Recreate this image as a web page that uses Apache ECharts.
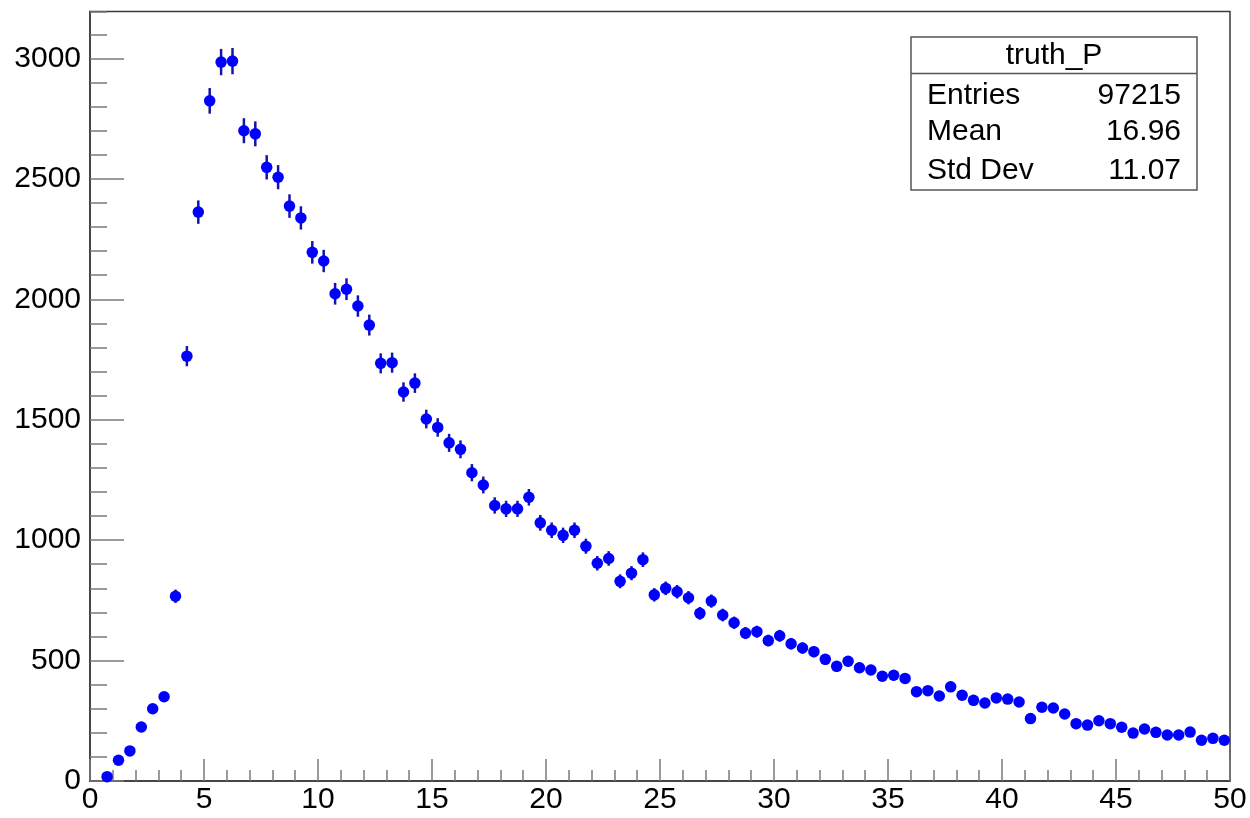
<!DOCTYPE html>
<html>
<head>
<meta charset="utf-8">
<script src="https://cdn.jsdelivr.net/npm/echarts@6/dist/echarts.min.js"></script>
<style>
html,body{margin:0;padding:0;background:#fff;}
#chart{width:1250px;height:818px;}
</style>
</head>
<body>
<div id="chart"></div>
<script>
// Histogram definition: 100 bins from 0 to 50
const xMin = 0;
const xMax = 50;
const binWidth = 0.5;
const yMax = 3195;
const xTickStep = 5;
const yTickStep = 500;

// bin contents
const binValues = [
  0, 18, 86, 125, 224, 300, 350, 767, 1764, 2362,
  2824, 2985, 2989, 2700, 2687, 2548, 2507, 2387, 2338, 2195,
  2159, 2023, 2042, 1972, 1893, 1734, 1737, 1615, 1652, 1503,
  1468, 1404, 1377, 1280, 1229, 1144, 1130, 1130, 1178, 1072,
  1041, 1020, 1041, 975, 904, 924, 829, 863, 919, 773,
  800, 786, 761, 696, 747, 689, 657, 614, 620, 583,
  603, 570, 552, 537, 505, 476, 497, 470, 461, 435,
  439, 426, 371, 375, 353, 391, 356, 335, 324, 345,
  340, 328, 259, 306, 303, 278, 238, 232, 250, 238,
  223, 199, 216, 202, 191, 191, 203, 169, 177, 169
];

// stats box
const statsTitle = "truth_P";
const statsNames = ["Entries", "Mean", "Std Dev"];
const statsValues = ["97215", "16.96", "11.07"];

const FONT = "'Liberation Sans', Arial, Helvetica, sans-serif";

const points = [];
binValues.forEach((v, k) => {
  if (v > 0) points.push([xMin + binWidth * (k + 0.5), v, Math.sqrt(v)]);
});

const chart = echarts.init(document.getElementById('chart'), null, {renderer: 'canvas'});

const gLeft = 90, gRight = 1230, gTop = 11.5, gBottom = 781;

const frameColor = '#3a3a3a';
const tickColor = '#7a7a7a';

const option = {
  animation: false,
  backgroundColor: '#ffffff',
  grid: {
    left: gLeft, right: 1250 - gRight, top: gTop, bottom: 818 - gBottom,
    show: true, borderColor: frameColor, borderWidth: 1.5, backgroundColor: 'transparent'
  },
  xAxis: [{
    type: 'value', min: xMin, max: xMax, interval: xTickStep,
    axisLine: {show: true, lineStyle: {color: frameColor, width: 1.5}},
    axisTick: {show: true, inside: true, length: 22, lineStyle: {color: tickColor, width: 1.5}},
    minorTick: {show: true, splitNumber: 5, length: 11, lineStyle: {color: tickColor, width: 1.5}},
    splitLine: {show: false},
    axisLabel: {color: '#000', fontFamily: FONT, fontSize: 30, margin: 4,
                formatter: v => String(v)}
  }],
  yAxis: [{
    type: 'value', min: 0, max: yMax, interval: yTickStep,
    axisLine: {show: true, lineStyle: {color: frameColor, width: 1.5}},
    axisTick: {show: true, inside: true, length: 34, lineStyle: {color: tickColor, width: 1.5}},
    splitLine: {show: false},
    axisLabel: {color: '#000', fontFamily: FONT, fontSize: 30, margin: 9, showMaxLabel: false,
                formatter: v => String(v)}
  }, {
    type: 'value', min: 0, max: yMax, interval: 100, position: 'left',
    axisLine: {show: false},
    axisTick: {show: true, inside: true, length: 17, lineStyle: {color: tickColor, width: 1.5}},
    splitLine: {show: false},
    axisLabel: {show: false}
  }],
  series: [{
    type: 'custom',
    xAxisIndex: 0, yAxisIndex: 0,
    data: points,
    renderItem: function (params, api) {
      const x = api.value(0), y = api.value(1), e = api.value(2);
      const p1 = api.coord([x, y - e]);
      const p2 = api.coord([x, y + e]);
      return {
        type: 'line',
        shape: {x1: p1[0], y1: p1[1], x2: p2[0], y2: p2[1]},
        style: {stroke: '#1414a8', lineWidth: 2.5}
      };
    },
    z: 2
  }, {
    type: 'scatter',
    xAxisIndex: 0, yAxisIndex: 0,
    data: points.map(p => [p[0], p[1]]),
    symbol: 'circle',
    symbolSize: 11.5,
    itemStyle: {color: '#0000ff', opacity: 1},
    z: 3
  }],
  graphic: [
    {type: 'rect', shape: {x: 911, y: 37, width: 286, height: 153},
     style: {fill: '#fff', stroke: '#555', lineWidth: 1.5}, z: 10},
    {type: 'line', shape: {x1: 911, y1: 73.5, x2: 1197, y2: 73.5},
     style: {stroke: '#555', lineWidth: 1.5}, z: 10},
    {type: 'text', x: 1054, y: 56, z: 11,
     style: {text: statsTitle, font: '30px ' + FONT, fill: '#000', align: 'center', verticalAlign: 'middle'}},
  ].concat(statsNames.map((n, i) => ({
    type: 'text', x: 927, y: [96, 132, 171][i], z: 11,
    style: {text: n, font: '30px ' + FONT, fill: '#000', align: 'left', verticalAlign: 'middle'}
  }))).concat(statsValues.map((v, i) => ({
    type: 'text', x: 1181, y: [96, 132, 171][i], z: 11,
    style: {text: v, font: '30px ' + FONT, fill: '#000', align: 'right', verticalAlign: 'middle'}
  })))
};

chart.setOption(option);
</script>
</body>
</html>
